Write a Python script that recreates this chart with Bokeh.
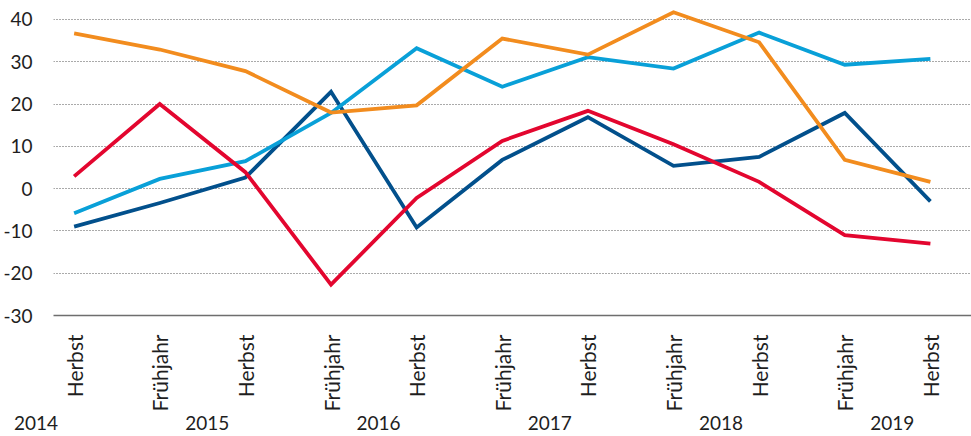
import math
from bokeh.plotting import figure
from bokeh.models import Range1d, FixedTicker, Div
from bokeh.layouts import column
from bokeh.embed import file_html
from bokeh.resources import INLINE

# ---- data ----
seasons = ["Herbst", "Frühjahr", "Herbst", "Frühjahr", "Herbst", "Frühjahr",
           "Herbst", "Frühjahr", "Herbst", "Frühjahr", "Herbst"]
years = ["2014", "2015", "2016", "2017", "2018", "2019"]
y_ticks = [-30, -20, -10, 0, 10, 20, 30, 40]

orange = [36.7, 32.9, 27.8, 18.0, 19.7, 35.5, 31.7, 41.7, 34.6, 6.8, 1.6]
red = [2.9, 20.0, 3.9, -22.7, -2.2, 11.3, 18.4, 10.5, 1.6, -11.0, -13.0]
light_blue = [-5.8, 2.3, 6.5, 17.9, 33.2, 24.1, 31.1, 28.4, 36.9, 29.3, 30.7]
dark_blue = [-9.0, -3.4, 2.6, 22.9, -9.2, 6.8, 16.9, 5.4, 7.5, 17.9, -3.0]

xs = list(range(len(seasons)))

FONT = "Lato"
TXT = "#1e1e1e"
W = 971
LEFT = 53
X_START, X_END = -0.241, 10.48
px_per_unit = (W - LEFT) / (X_END - X_START)

p = figure(width=W, height=414, output_backend="svg", toolbar_location=None,
           x_range=Range1d(X_START, X_END), y_range=Range1d(-30, 42.6),
           min_border_left=LEFT, min_border_right=0, min_border_top=8,
           min_border_bottom=95)
p.outline_line_color = None

series = [(dark_blue, "#02508C"), (light_blue, "#09A0D8"),
          (red, "#E3062F"), (orange, "#F28C1E")]
for vals, col in series:
    p.line(xs, vals, line_color=col, line_width=3.8, line_join="miter")

# x axis
xa = p.xaxis[0]
xa.ticker = FixedTicker(ticks=xs)
xa.major_label_overrides = {i: s for i, s in enumerate(seasons)}
xa.major_label_orientation = math.pi / 2
xa.major_tick_line_color = None
xa.minor_tick_line_color = None
xa.axis_line_color = "#6e6e6e"
xa.axis_line_width = 1.5
xa.major_label_standoff = 13
xa.major_label_text_font = FONT
xa.major_label_text_font_size = "21px"
xa.major_label_text_color = TXT

# y axis
ya = p.yaxis[0]
ya.ticker = FixedTicker(ticks=y_ticks)
ya.major_label_overrides = {t: str(t) for t in y_ticks}
ya.axis_line_color = None
ya.major_tick_line_color = None
ya.minor_tick_line_color = None
ya.major_label_standoff = 15
ya.major_label_text_font = FONT
ya.major_label_text_font_size = "19px"
ya.major_label_text_color = TXT

p.xgrid.grid_line_color = None
p.ygrid.ticker = FixedTicker(ticks=y_ticks[1:])
p.ygrid.grid_line_color = "#555555"
p.ygrid.grid_line_dash = "1 2"
p.ygrid.grid_line_width = 1

# year row, centred between Frühjahr and Herbst of each year (same x scale)
herbst_idx = [i for i, s in enumerate(seasons) if s == "Herbst"]
spans = []
for yr, hi in zip(years, herbst_idx):
    cx = LEFT + (hi - 0.44 - X_START) * px_per_unit
    spans.append(
        f'<span style="position:absolute;left:{cx:.1f}px;top:0;'
        f'transform:translateX(-50%);white-space:nowrap;">{yr}</span>')
html = (f'<div style="position:relative;width:{W}px;height:22px;'
        f'font-family:{FONT};font-size:19px;line-height:18px;color:{TXT};">'
        + "".join(spans) + "</div>")
years_row = Div(text=html, width=W, height=22, margin=(0, 0, 0, 0))

layout = column(p, years_row, spacing=0)
open("out.html", "w").write(file_html(layout, INLINE))
